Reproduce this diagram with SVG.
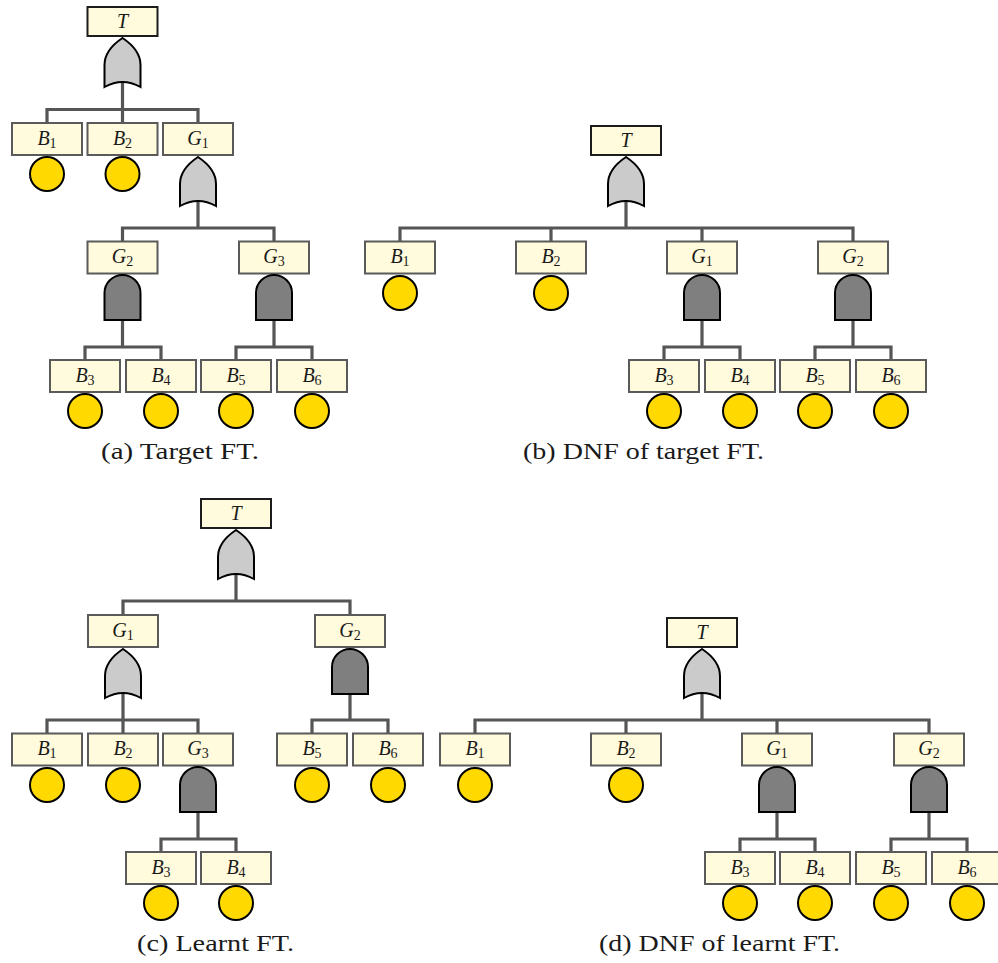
<svg xmlns="http://www.w3.org/2000/svg" width="998" height="963" viewBox="0 0 998 963">
<style>
text{font-family:"Liberation Serif","Times New Roman",serif;fill:#1a1a1a}
.box{fill:#fffbdc;stroke:#5a5a5a;stroke-width:2}
.top{fill:#fffbdc;stroke:#1c1c1c;stroke-width:2}
.lbl{font-size:20px;font-style:italic;text-anchor:middle}
.sub{font-size:14px;font-style:normal}
.cap{font-size:23.5px}
.ev{fill:#ffd900;stroke:#000;stroke-width:2}
.or{fill:#cbcbcb;stroke:#000;stroke-width:2;stroke-linejoin:miter}
.and{fill:#7f7f7f;stroke:#000;stroke-width:2;stroke-linejoin:miter}
.c{fill:none;stroke:#555;stroke-width:3.2}
</style>
<defs>
<path id="or" class="or" d="M0,0C9,6 18,15 18,27V49Q9,44 0,44Q-9,44 -18,49V27C-18,15 -9,6 0,0Z"/>
<path id="and" class="and" d="M-18,45V18A18,18 0 0 1 18,18V45Z"/>
<rect id="b" class="box" x="-35" y="0" width="70" height="32"/>
<rect id="t" class="top" x="-35" y="0" width="70" height="29"/>
<circle id="e" class="ev" r="17"/>
</defs>

<g id="connectors">
<path class="c" d="M122.5,83V109.5H47V123M122.5,109.5V123M122.5,109.5H198V123"/>
<path class="c" d="M198,202V228H122.5V241.5M198,228H274V241.5"/>
<path class="c" d="M122.5,320V347H85V360M122.5,347H161V360"/>
<path class="c" d="M274,320V347H236V360M274,347H312V360"/>
<path class="c" d="M626,202V228H400V241.5M626,228H551V241.5M626,228H702V241.5M626,228H853V241.5"/>
<path class="c" d="M702,320V347H664V360M702,347H740V360"/>
<path class="c" d="M853,320V347H815V360M853,347H891V360"/>
<path class="c" d="M236,575V601H123V615M236,601H350V615"/>
<path class="c" d="M123,694V720H47V733.5M123,720V733.5M123,720H198V733.5"/>
<path class="c" d="M350,694V720H312V733.5M350,720H388V733.5"/>
<path class="c" d="M198,812V839H161V852M198,839H236V852"/>
<path class="c" d="M702,694V720H475V733.5M702,720H626V733.5M702,720H777V733.5M702,720H929V733.5"/>
<path class="c" d="M777,812V839H740V852M777,839H815V852"/>
<path class="c" d="M929,812V839H891V852M929,839H967V852"/>
</g>

<g id="a-T"><use href="#t" x="122.5" y="7"/><text class="lbl" x="122.5" y="28">T</text></g>
<g id="a-T-gate"><use href="#or" x="122.5" y="38"/></g>
<g id="a-B1"><use href="#b" x="47" y="123"/><text class="lbl" x="47" y="145">B<tspan class="sub" dy="3">1</tspan></text><use href="#e" x="47" y="174"/></g>
<g id="a-B2"><use href="#b" x="122.5" y="123"/><text class="lbl" x="122.5" y="145">B<tspan class="sub" dy="3">2</tspan></text><use href="#e" x="122.5" y="174"/></g>
<g id="a-G1"><use href="#b" x="198" y="123"/><text class="lbl" x="198" y="145">G<tspan class="sub" dy="3">1</tspan></text><use href="#or" x="198" y="157"/></g>
<g id="a-G2"><use href="#b" x="122.5" y="241.5"/><text class="lbl" x="122.5" y="263">G<tspan class="sub" dy="3">2</tspan></text><use href="#and" x="122.5" y="275"/></g>
<g id="a-G3"><use href="#b" x="274" y="241.5"/><text class="lbl" x="274" y="263">G<tspan class="sub" dy="3">3</tspan></text><use href="#and" x="274" y="275"/></g>
<g id="a-B3"><use href="#b" x="85" y="360"/><text class="lbl" x="85" y="382">B<tspan class="sub" dy="3">3</tspan></text><use href="#e" x="85" y="411"/></g>
<g id="a-B4"><use href="#b" x="161" y="360"/><text class="lbl" x="161" y="382">B<tspan class="sub" dy="3">4</tspan></text><use href="#e" x="161" y="411"/></g>
<g id="a-B5"><use href="#b" x="236" y="360"/><text class="lbl" x="236" y="382">B<tspan class="sub" dy="3">5</tspan></text><use href="#e" x="236" y="411"/></g>
<g id="a-B6"><use href="#b" x="312" y="360"/><text class="lbl" x="312" y="382">B<tspan class="sub" dy="3">6</tspan></text><use href="#e" x="312" y="411"/></g>
<text class="cap" x="101" y="459" textLength="158" lengthAdjust="spacingAndGlyphs">(a) Target FT.</text>

<g id="b-T"><use href="#t" x="626" y="126"/><text class="lbl" x="626" y="147">T</text></g>
<g id="b-T-gate"><use href="#or" x="626" y="157"/></g>
<g id="b-B1"><use href="#b" x="400" y="241.5"/><text class="lbl" x="400" y="263">B<tspan class="sub" dy="3">1</tspan></text><use href="#e" x="400" y="293"/></g>
<g id="b-B2"><use href="#b" x="551" y="241.5"/><text class="lbl" x="551" y="263">B<tspan class="sub" dy="3">2</tspan></text><use href="#e" x="551" y="293"/></g>
<g id="b-G1"><use href="#b" x="702" y="241.5"/><text class="lbl" x="702" y="263">G<tspan class="sub" dy="3">1</tspan></text><use href="#and" x="702" y="275"/></g>
<g id="b-G2"><use href="#b" x="853" y="241.5"/><text class="lbl" x="853" y="263">G<tspan class="sub" dy="3">2</tspan></text><use href="#and" x="853" y="275"/></g>
<g id="b-B3"><use href="#b" x="664" y="360"/><text class="lbl" x="664" y="382">B<tspan class="sub" dy="3">3</tspan></text><use href="#e" x="664" y="411"/></g>
<g id="b-B4"><use href="#b" x="740" y="360"/><text class="lbl" x="740" y="382">B<tspan class="sub" dy="3">4</tspan></text><use href="#e" x="740" y="411"/></g>
<g id="b-B5"><use href="#b" x="815" y="360"/><text class="lbl" x="815" y="382">B<tspan class="sub" dy="3">5</tspan></text><use href="#e" x="815" y="411"/></g>
<g id="b-B6"><use href="#b" x="891" y="360"/><text class="lbl" x="891" y="382">B<tspan class="sub" dy="3">6</tspan></text><use href="#e" x="891" y="411"/></g>
<text class="cap" x="523" y="459" textLength="241" lengthAdjust="spacingAndGlyphs">(b) DNF of target FT.</text>

<g id="c-T"><use href="#t" x="236" y="499"/><text class="lbl" x="236" y="520">T</text></g>
<g id="c-T-gate"><use href="#or" x="236" y="530"/></g>
<g id="c-G1"><use href="#b" x="123" y="615"/><text class="lbl" x="123" y="637">G<tspan class="sub" dy="3">1</tspan></text><use href="#or" x="123" y="649"/></g>
<g id="c-G2"><use href="#b" x="350" y="615"/><text class="lbl" x="350" y="637">G<tspan class="sub" dy="3">2</tspan></text><use href="#and" x="350" y="649"/></g>
<g id="c-B1"><use href="#b" x="47" y="733.5"/><text class="lbl" x="47" y="755">B<tspan class="sub" dy="3">1</tspan></text><use href="#e" x="47" y="785"/></g>
<g id="c-B2"><use href="#b" x="123" y="733.5"/><text class="lbl" x="123" y="755">B<tspan class="sub" dy="3">2</tspan></text><use href="#e" x="123" y="785"/></g>
<g id="c-G3"><use href="#b" x="198" y="733.5"/><text class="lbl" x="198" y="755">G<tspan class="sub" dy="3">3</tspan></text><use href="#and" x="198" y="767"/></g>
<g id="c-B5"><use href="#b" x="312" y="733.5"/><text class="lbl" x="312" y="755">B<tspan class="sub" dy="3">5</tspan></text><use href="#e" x="312" y="785"/></g>
<g id="c-B6"><use href="#b" x="388" y="733.5"/><text class="lbl" x="388" y="755">B<tspan class="sub" dy="3">6</tspan></text><use href="#e" x="388" y="785"/></g>
<g id="c-B3"><use href="#b" x="161" y="852"/><text class="lbl" x="161" y="874">B<tspan class="sub" dy="3">3</tspan></text><use href="#e" x="161" y="903"/></g>
<g id="c-B4"><use href="#b" x="236" y="852"/><text class="lbl" x="236" y="874">B<tspan class="sub" dy="3">4</tspan></text><use href="#e" x="236" y="903"/></g>
<text class="cap" x="137" y="951" textLength="157" lengthAdjust="spacingAndGlyphs">(c) Learnt FT.</text>

<g id="d-T"><use href="#t" x="702" y="618"/><text class="lbl" x="702" y="639">T</text></g>
<g id="d-T-gate"><use href="#or" x="702" y="649"/></g>
<g id="d-B1"><use href="#b" x="475" y="733.5"/><text class="lbl" x="475" y="755">B<tspan class="sub" dy="3">1</tspan></text><use href="#e" x="475" y="785"/></g>
<g id="d-B2"><use href="#b" x="626" y="733.5"/><text class="lbl" x="626" y="755">B<tspan class="sub" dy="3">2</tspan></text><use href="#e" x="626" y="785"/></g>
<g id="d-G1"><use href="#b" x="777" y="733.5"/><text class="lbl" x="777" y="755">G<tspan class="sub" dy="3">1</tspan></text><use href="#and" x="777" y="767"/></g>
<g id="d-G2"><use href="#b" x="929" y="733.5"/><text class="lbl" x="929" y="755">G<tspan class="sub" dy="3">2</tspan></text><use href="#and" x="929" y="767"/></g>
<g id="d-B3"><use href="#b" x="740" y="852"/><text class="lbl" x="740" y="874">B<tspan class="sub" dy="3">3</tspan></text><use href="#e" x="740" y="903"/></g>
<g id="d-B4"><use href="#b" x="815" y="852"/><text class="lbl" x="815" y="874">B<tspan class="sub" dy="3">4</tspan></text><use href="#e" x="815" y="903"/></g>
<g id="d-B5"><use href="#b" x="891" y="852"/><text class="lbl" x="891" y="874">B<tspan class="sub" dy="3">5</tspan></text><use href="#e" x="891" y="903"/></g>
<g id="d-B6"><use href="#b" x="967" y="852"/><text class="lbl" x="967" y="874">B<tspan class="sub" dy="3">6</tspan></text><use href="#e" x="967" y="903"/></g>
<text class="cap" x="599" y="951" textLength="241" lengthAdjust="spacingAndGlyphs">(d) DNF of learnt FT.</text>
</svg>
